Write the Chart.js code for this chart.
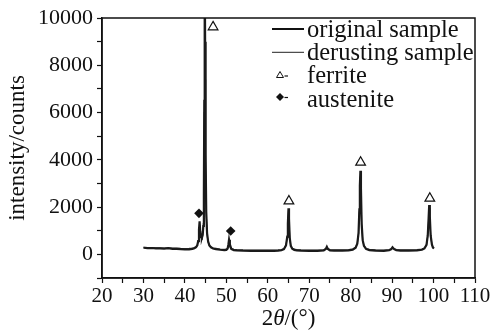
<!DOCTYPE html>
<html>
<head>
<meta charset="utf-8">
<script src="https://cdn.jsdelivr.net/npm/chart.js@4.4.1/dist/chart.umd.min.js"></script>
<style>
  html, body { margin: 0; padding: 0; background: #fff; }
  #wrap { position: relative; width: 496px; height: 331px; overflow: hidden; }
  canvas { position: absolute; left: 0; top: 0; }
  .txt { position: absolute; font-family: "Liberation Serif", "Times New Roman", serif; color: #111; white-space: nowrap; }
  .leg { font-size: 24.5px; line-height: 24px; left: 307px; }
  #xtitle { font-size: 23px; line-height: 23px; left: 0; width: 577px; text-align: center; top: 306px; }
</style>
</head>
<body>
<div id="wrap">
  <canvas id="c" width="496" height="331"></canvas>
  <svg style="position:absolute;left:0;top:0" width="496" height="331">
    <line x1="272" y1="29" x2="304" y2="29" stroke="#111" stroke-width="2"/>
    <line x1="272" y1="52.3" x2="304" y2="52.3" stroke="#222" stroke-width="1"/>
    <polygon points="280,71.5 283.5,77.5 276.5,77.5" fill="#fff" stroke="#111" stroke-width="1"/>
    <line x1="284.5" y1="76" x2="288" y2="76" stroke="#111" stroke-width="1.2"/>
    <polygon points="280,93 284,97 280,101 276,97" fill="#111"/>
    <line x1="284.5" y1="97.5" x2="288" y2="97.5" stroke="#111" stroke-width="1.2"/>
  </svg>
  <div class="txt leg" style="top:16.6px">original sample</div>
  <div class="txt leg" style="top:39.9px">derusting sample</div>
  <div class="txt leg" style="top:63.3px">ferrite</div>
  <div class="txt leg" style="top:86.6px">austenite</div>
  <div class="txt" id="xtitle">2<i>θ</i>/(°)</div>
</div>
<script>
// ---- data ----
const twoTheta = [
  30,31,32,33,34,35,36,37,38,39,40,41,41.8,
  42.3,42.7,43.0,43.2,43.4,43.55,43.7,43.9,44.1,44.3,44.45,44.58,44.68,44.78,44.88,45.0,45.15,45.35,45.6,45.9,46.3,46.8,
  47.5,48.5,49.5,50.0,50.3,50.5,50.65,50.85,51.2,51.8,52.5,54,56,58,60,61.5,62.5,
  63.3,63.9,64.4,64.7,64.85,65.0,65.12,65.3,65.55,65.9,66.4,67,
  68,70,72,73.5,74.0,74.25,74.5,75,76,78,79.5,80.5,
  81.2,81.6,81.9,82.1,82.22,82.35,82.48,82.65,82.9,83.2,83.7,84.5,
  86,88,89.3,89.8,90.1,90.5,91,92,94,96,97.2,
  97.8,98.3,98.6,98.8,98.95,99.1,99.3,99.6,99.85,100.1
];
const originalSample = [
  280,265,270,255,250,245,260,235,230,220,210,215,230,
  260,300,380,560,1050,1400,980,720,700,820,1200,2500,6500,12500,9000,4200,1800,900,550,380,300,250,
  220,195,180,190,240,420,620,420,230,180,165,155,150,150,145,150,155,
  175,220,380,750,1300,1950,1500,700,360,240,190,165,
  155,150,150,165,230,320,230,170,155,155,170,200,
  280,450,900,1900,2900,3540,2800,1300,600,360,230,180,
  155,150,175,220,300,220,180,160,160,170,195,
  250,400,800,1500,2090,1600,800,420,290,250
];
const derustingSample = [
  300,290,285,280,275,270,280,265,260,250,245,250,265,
  290,330,420,560,800,900,820,760,760,850,1300,2800,6000,7700,7400,3800,1700,850,520,380,310,270,
  250,225,215,220,250,320,380,310,250,215,200,190,185,180,180,185,190,
  205,250,390,720,1250,1850,1400,680,370,260,220,200,
  190,185,185,195,230,270,230,200,190,190,200,225,
  300,460,880,1800,2750,3300,2650,1250,600,370,250,210,
  190,185,200,230,260,230,205,195,195,200,220,
  270,410,780,1420,1950,1500,780,420,300,270
];
const ferriteX = [46.8, 65.1, 82.4, 99.1];
const ferriteY = [9620, 2255, 3890, 2370];
const austeniteX = [43.4, 51.05];
const austeniteY = [1735, 986];
const xTickMin = 20, xTickMax = 110, xStep = 5, xLabelStep = 10;
const yTickMin = -1000, yTickMax = 10000, yStep = 1000, yLabelStep = 2000;

const pts = (xs, ys) => xs.map((x, i) => ({x, y: ys[i]}));

const frame = {
  id: 'frame',
  afterDatasetsDraw(chart) {
    const {ctx, chartArea: a} = chart;
    ctx.save();
    ctx.strokeStyle = '#111';
    ctx.lineWidth = 1.5;
    ctx.strokeRect(a.left, a.top, a.right - a.left, a.bottom - a.top);
    ctx.restore();
  }
};

new Chart(document.getElementById('c'), {
  type: 'line',
  data: {
    datasets: [
      { label: 'ferrite', data: pts(ferriteX, ferriteY), showLine: false,
        pointStyle: 'triangle', pointRadius: 5.6, pointBackgroundColor: '#fff',
        pointBorderColor: '#111', pointBorderWidth: 1.2, order: 0 },
      { label: 'austenite', data: pts(austeniteX, austeniteY), showLine: false,
        pointStyle: 'rectRot', pointRadius: 4.8, pointBackgroundColor: '#111',
        pointBorderColor: '#111', pointBorderWidth: 0, order: 0 },
      { label: 'derusting sample', data: pts(twoTheta, derustingSample),
        borderColor: '#444', borderWidth: 1.2, pointRadius: 0, tension: 0, order: 2 },
      { label: 'original sample', data: pts(twoTheta, originalSample),
        borderColor: '#1a1a1a', borderWidth: 2.2, pointRadius: 0, tension: 0, order: 1 }
    ]
  },
  options: {
    responsive: false,
    animation: false,
    devicePixelRatio: 1,
    layout: { padding: { top: 18, right: 21, left: 0, bottom: 0 } },
    plugins: { legend: { display: false }, tooltip: { enabled: false } },
    scales: {
      x: {
        type: 'linear', min: xTickMin, max: xTickMax,
        afterFit: s => { s.height = 53; },
        border: { display: true, color: '#111', width: 1.5 },
        grid: { drawOnChartArea: false, drawTicks: true, tickLength: 5, tickColor: '#111', tickWidth: 1.2 },
        ticks: {
          stepSize: xStep, autoSkip: false, maxRotation: 0, padding: 1,
          color: '#111', font: { family: 'Liberation Serif', size: 21 },
          callback: v => (v % xLabelStep === 0 ? String(v) : '')
        }
      },
      y: {
        min: yTickMin, max: yTickMax,
        afterFit: s => { s.width = 102; },
        border: { display: true, color: '#111', width: 1.5 },
        grid: { drawOnChartArea: false, drawTicks: true, tickLength: 5, tickColor: '#111', tickWidth: 1.2 },
        ticks: {
          stepSize: yStep, autoSkip: false, padding: 4,
          color: '#111', font: { family: 'Liberation Serif', size: 22 },
          callback: v => (v >= 0 && v % yLabelStep === 0 ? String(v) : '')
        },
        title: {
          display: true, text: 'intensity/counts', color: '#111',
          font: { family: 'Liberation Serif', size: 23 },
          padding: { top: 4, bottom: 0 }
        }
      }
    }
  },
  plugins: [frame]
});
</script>
</body>
</html>
